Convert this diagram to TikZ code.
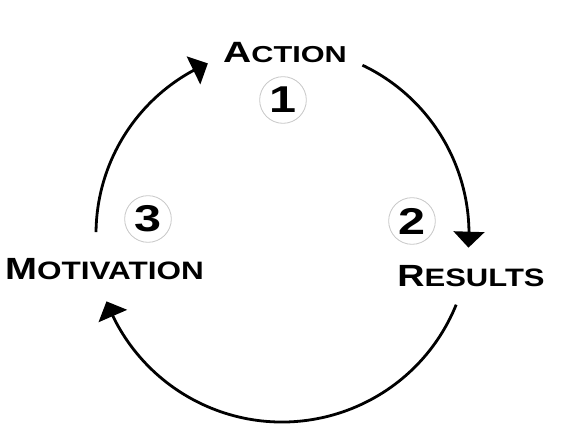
\documentclass[tikz,border=0pt]{standalone}
\usepackage{fontspec}
\setmainfont{Liberation Sans}
\usetikzlibrary{arrows.meta,bending,calc}
\newcommand{\capword}[5]{\scalebox{#5}[1]{\fontsize{#3}{#3}\selectfont\bfseries #1\fontsize{#4}{#4}\selectfont #2}}
\newcommand{\numdigit}[1]{\scalebox{1.3}[1]{\fontsize{28pt}{28pt}\selectfont\bfseries #1}}
\begin{document}
\begin{tikzpicture}[x=0.75pt,y=0.75pt,
  cycarrow/.style={line width=2.1pt,-{Triangle[width=23pt,length=12pt,flex]}},
  numcircle/.style={circle,draw=black!22,line width=0.6pt,minimum size=35pt,inner sep=0pt},
  wordlabel/.style={anchor=base,inner sep=0pt}]
\useasboundingbox (0,0) rectangle (561,424);
\coordinate (c) at (282,190);
\coordinate (s1) at ($(c)+(64.5:187)$);
\coordinate (s2) at ($(c)+(-22.1:188)$);
\coordinate (s3) at ($(c)+(179.4:186)$);
\node[wordlabel] (action) at (285,361) {\capword{A}{CTION}{22pt}{17.3pt}{1.33}};
\node[wordlabel] (results) at (471,137) {\capword{R}{ESULTS}{23pt}{18.9pt}{1.23}};
\node[wordlabel] (motivation) at (104.5,144.5) {\capword{M}{OTIVATION}{23pt}{18.9pt}{1.25}};
\node[numcircle] (n1) at (283,324) {\numdigit{1}};
\node[numcircle] (n2) at (412,203) {\numdigit{2}};
\node[numcircle] (n3) at (148,205) {\numdigit{3}};
\draw[cycarrow] (s1) arc[start angle=64.5, end angle=-4.2, radius=187];
\draw[cycarrow] (s2) arc[start angle=-22.1, end angle=-159, radius=188];
\draw[cycarrow] (s3) arc[start angle=179.4, end angle=113.5, radius=186];
\end{tikzpicture}
\end{document}
